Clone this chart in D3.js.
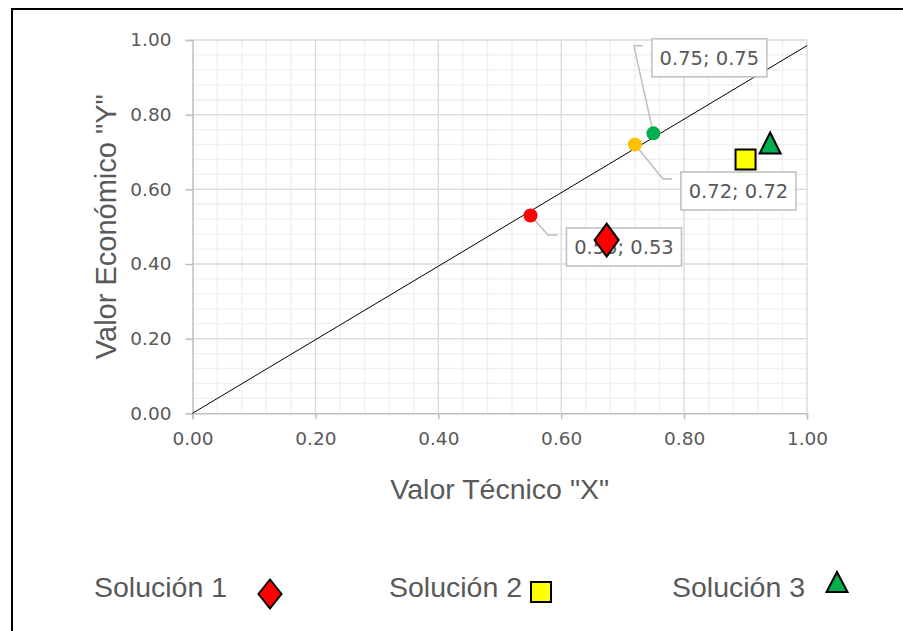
<!DOCTYPE html>
<html>
<head>
<meta charset="utf-8">
<script src="https://cdn.jsdelivr.net/npm/d3@7"></script>
<style>
  body { margin: 0; background: #fff; }
  svg { display: block; }
</style>
</head>
<body>
<div id="chart"></div>
<script>
// Data
const pointX = [0.55, 0.72, 0.75]
const pointY = [0.53, 0.72, 0.75]
const pointLabels = ["0.55; 0.53", "0.72; 0.72", "0.75; 0.75"]

const solutionNames = ["Solución 1", "Solución 2", "Solución 3"]
const solutionX = [0.674, 0.90, 0.94]
const solutionY = [0.464, 0.68, 0.724]

const diagonalX = [0, 1]
const diagonalY = [0, 0.985]

const tickValues = [0, 0.2, 0.4, 0.6, 0.8, 1.0]

function drawChart() {
  // Dimensions
    let dimensions = {
        width: 903,
        height: 631,
        margin: { top: 40, right: 96, bottom: 217.7, left: 192.5 },
    }
    dimensions.boundedWidth = dimensions.width - dimensions.margin.left - dimensions.margin.right
    dimensions.boundedHeight = dimensions.height - dimensions.margin.top - dimensions.margin.bottom

    const grey = "#595959"
    const pointColors = ["#ff0000", "#ffc000", "#00b050"]
    const solutionColors = ["#ff0000", "#ffff00", "#00b050"]

  // Canvas
    const svg = d3.select("#chart")
        .append("svg")
            .attr("width", dimensions.width)
            .attr("height", dimensions.height)

    svg.append("rect")
        .attr("x", 12).attr("y", 9)
        .attr("width", 1200).attr("height", 1200)
        .attr("fill", "none")
        .attr("stroke", "#000")
        .attr("stroke-width", 2)

    const bounds = svg.append("g")
        .attr("transform", `translate(${dimensions.margin.left},${dimensions.margin.top})`)

  // Scales
    const xScale = d3.scaleLinear().domain([0, 1]).range([0, dimensions.boundedWidth])
    const yScale = d3.scaleLinear().domain([0, 1]).range([dimensions.boundedHeight, 0])

  // Grid
    const minor = d3.range(0, 1.0001, 0.04).filter(v => Math.abs(v * 5 - Math.round(v * 5)) > 1e-6)
    bounds.selectAll(".minor-x").data(minor).join("line")
        .attr("x1", d => xScale(d)).attr("x2", d => xScale(d))
        .attr("y1", 0).attr("y2", dimensions.boundedHeight)
        .attr("stroke", "#efefef").attr("stroke-width", 1.3)
    bounds.selectAll(".minor-y").data(minor).join("line")
        .attr("y1", d => yScale(d)).attr("y2", d => yScale(d))
        .attr("x1", 0).attr("x2", dimensions.boundedWidth)
        .attr("stroke", "#efefef").attr("stroke-width", 1.3)
    bounds.selectAll(".major-x").data(tickValues.slice(1)).join("line")
        .attr("x1", d => xScale(d)).attr("x2", d => xScale(d))
        .attr("y1", 0).attr("y2", dimensions.boundedHeight)
        .attr("stroke", "#d9d9d9").attr("stroke-width", 1.3)
    bounds.selectAll(".major-y").data(tickValues.slice(1)).join("line")
        .attr("y1", d => yScale(d)).attr("y2", d => yScale(d))
        .attr("x1", 0).attr("x2", dimensions.boundedWidth)
        .attr("stroke", "#d9d9d9").attr("stroke-width", 1.3)

  // Axes
    const xAxis = bounds.append("g")
        .attr("transform", `translate(0,${dimensions.boundedHeight})`)
        .call(d3.axisBottom(xScale).tickValues(tickValues).tickFormat(d3.format(".2f")).tickSizeOuter(0).tickSize(6).tickPadding(13))
    const yAxis = bounds.append("g")
        .call(d3.axisLeft(yScale).tickValues(tickValues).tickFormat(d3.format(".2f")).tickSizeOuter(0).tickSize(7).tickPadding(14))
    ;[xAxis, yAxis].forEach(ax => {
        ax.select(".domain").attr("stroke", "#bfbfbf").attr("stroke-width", 1.5)
        ax.selectAll(".tick line").attr("stroke", "#bfbfbf").attr("stroke-width", 1.5)
        ax.selectAll(".tick text")
            .attr("fill", grey)
            .style("font-family", "'DejaVu Sans', sans-serif")
            .style("font-size", "18.5px")
    })

    bounds.append("text")
        .attr("x", dimensions.boundedWidth / 2)
        .attr("y", dimensions.boundedHeight + 86)
        .attr("text-anchor", "middle")
        .attr("fill", grey)
        .style("font-family", "'Liberation Sans', Arial, sans-serif")
        .style("font-size", "28.5px")
        .text('Valor Técnico "X"')

    bounds.append("text")
        .attr("transform", `translate(${-77},${yScale(0.5)}) rotate(-90)`)
        .attr("text-anchor", "middle")
        .attr("fill", grey)
        .style("font-family", "'Liberation Sans', Arial, sans-serif")
        .style("font-size", "29px")
        .text('Valor Económico "Y"')

  // Diagonal line
    const lineGenerator = d3.line()
        .x(d => xScale(d[0]))
        .y(d => yScale(d[1]))
    bounds.append("path")
        .attr("d", lineGenerator(d3.zip(diagonalX, diagonalY)))
        .attr("fill", "none")
        .attr("stroke", "#000")
        .attr("stroke-width", 1)

  // Data labels with leader lines (offsets from point in px)
    const labelLayout = [
        { box: [36, 12.5], elbow: [17.5, 19.5], end: [27, 19.5] },
        { box: [46, 27.5], elbow: [28, 34.5], end: [37, 34.5] },
        { box: [-1.5, -94.5], elbow: [-19.5, -87.5], end: [-10.5, -87.5] },
    ]
    const boxW = 115, boxH = 38
    pointLabels.forEach((label, i) => {
        const px = xScale(pointX[i]), py = yScale(pointY[i])
        const l = labelLayout[i]
        bounds.append("path")
            .attr("d", d3.line()([[px, py], [px + l.elbow[0], py + l.elbow[1]], [px + l.end[0], py + l.end[1]]]))
            .attr("fill", "none")
            .attr("stroke", "#bfbfbf")
            .attr("stroke-width", 1.5)
        bounds.append("rect")
            .attr("x", px + l.box[0]).attr("y", py + l.box[1])
            .attr("width", boxW).attr("height", boxH)
            .attr("fill", "#fff")
            .attr("stroke", "#bfbfbf")
            .attr("stroke-width", 1.5)
        bounds.append("text")
            .attr("x", px + l.box[0] + boxW / 2)
            .attr("y", py + l.box[1] + boxH / 2)
            .attr("dy", "0.36em")
            .attr("text-anchor", "middle")
            .attr("fill", grey)
            .style("font-family", "'DejaVu Sans', sans-serif")
            .style("font-size", "19.5px")
            .text(label)
    })

  // Reference points
    bounds.selectAll(".ref-point")
        .data(d3.range(pointX.length))
        .join("circle")
            .attr("cx", i => xScale(pointX[i]))
            .attr("cy", i => yScale(pointY[i]))
            .attr("r", 7)
            .attr("fill", i => pointColors[i])

  // Solution markers
    const diamond = (w, h) => `M0,${-h / 2}L${w / 2},0L0,${h / 2}L${-w / 2},0Z`
    const square = (w, h) => `M${-w / 2},${-h / 2}H${w / 2}V${h / 2}H${-w / 2}Z`
    const triangle = (w, h) => `M0,${-h / 2}L${w / 2},${h / 2}H${-w / 2}Z`
    const shapes = [diamond, square, triangle]
    const plotSizes = [[24, 33], [20, 20], [21, 21]]
    const legendSizes = [[23, 29], [20, 20], [21, 20]]

    solutionNames.forEach((name, i) => {
        bounds.append("path")
            .attr("transform", `translate(${xScale(solutionX[i])},${yScale(solutionY[i])})`)
            .attr("d", shapes[i](...plotSizes[i]))
            .attr("fill", solutionColors[i])
            .attr("stroke", "#000")
            .attr("stroke-width", 2)
            .attr("stroke-linejoin", "miter")
    })

  // Legend
    const legendText = [94, 389, 672]
    const legendMarker = [[270, 594], [541, 592], [837, 582]]
    solutionNames.forEach((name, i) => {
        svg.append("text")
            .attr("x", legendText[i])
            .attr("y", 597)
            .attr("fill", grey)
            .style("font-family", "'Liberation Sans', Arial, sans-serif")
            .style("font-size", "28.5px")
            .text(name)
        svg.append("path")
            .attr("transform", `translate(${legendMarker[i][0]},${legendMarker[i][1]})`)
            .attr("d", shapes[i](...legendSizes[i]))
            .attr("fill", solutionColors[i])
            .attr("stroke", "#000")
            .attr("stroke-width", 2)
    })
}

drawChart()
</script>
</body>
</html>
